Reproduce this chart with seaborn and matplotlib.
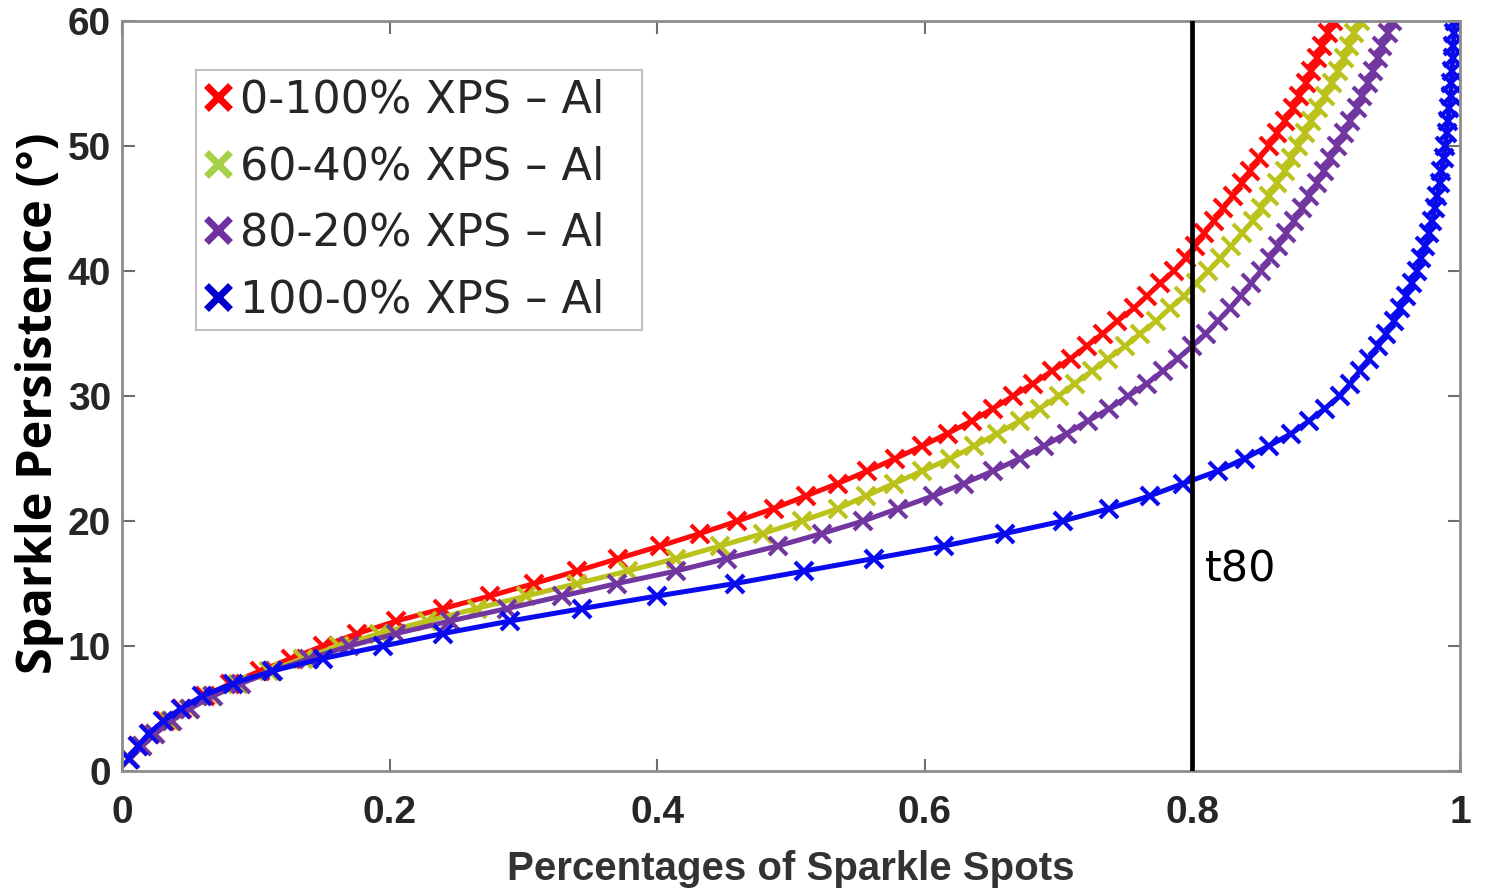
import numpy as np
import pandas as pd
import matplotlib
matplotlib.use("Agg")
import matplotlib.pyplot as plt
from matplotlib.lines import Line2D
import seaborn as sns

# ---- data -------------------------------------------------------------
persistence = list(range(1, 61))  # Sparkle Persistence (deg), one marker per degree

red_0_100 = [0.005, 0.012, 0.021, 0.032, 0.045, 0.062, 0.081, 0.103, 0.126, 0.150,
             0.176, 0.205, 0.240, 0.275, 0.308, 0.340, 0.371, 0.402, 0.432, 0.460,
             0.487, 0.511, 0.535, 0.557, 0.578, 0.598, 0.617, 0.635, 0.651, 0.666,
             0.681, 0.695, 0.709, 0.721, 0.733, 0.744, 0.756, 0.766, 0.776, 0.786,
             0.795, 0.802, 0.809, 0.816, 0.823, 0.830, 0.837, 0.843, 0.850, 0.857,
             0.863, 0.869, 0.875, 0.880, 0.885, 0.889, 0.893, 0.897, 0.901, 0.905]

yellow_60_40 = [0.006, 0.015, 0.025, 0.036, 0.050, 0.067, 0.087, 0.110, 0.135, 0.162,
                0.192, 0.228, 0.265, 0.302, 0.340, 0.378, 0.414, 0.447, 0.479, 0.508,
                0.535, 0.556, 0.577, 0.598, 0.619, 0.637, 0.654, 0.671, 0.686, 0.700,
                0.712, 0.725, 0.737, 0.750, 0.761, 0.773, 0.783, 0.794, 0.803, 0.812,
                0.821, 0.829, 0.837, 0.845, 0.851, 0.857, 0.863, 0.869, 0.874, 0.879,
                0.884, 0.889, 0.894, 0.899, 0.904, 0.909, 0.913, 0.917, 0.921, 0.925]

purple_80_20 = [0.006, 0.015, 0.025, 0.037, 0.051, 0.068, 0.089, 0.113, 0.140, 0.170,
                0.205, 0.245, 0.288, 0.329, 0.370, 0.414, 0.452, 0.490, 0.523, 0.554,
                0.580, 0.606, 0.629, 0.651, 0.671, 0.689, 0.706, 0.722, 0.738, 0.752,
                0.766, 0.778, 0.789, 0.800, 0.810, 0.819, 0.828, 0.836, 0.844, 0.851,
                0.858, 0.864, 0.870, 0.876, 0.882, 0.887, 0.893, 0.898, 0.903, 0.908,
                0.913, 0.918, 0.923, 0.927, 0.931, 0.935, 0.939, 0.942, 0.946, 0.949]

blue_100_0 = [0.005, 0.012, 0.020, 0.031, 0.044, 0.060, 0.083, 0.112, 0.150, 0.195,
              0.240, 0.290, 0.344, 0.400, 0.458, 0.510, 0.562, 0.614, 0.660, 0.703,
              0.738, 0.768, 0.793, 0.819, 0.839, 0.857, 0.874, 0.887, 0.899, 0.910,
              0.918, 0.925, 0.932, 0.939, 0.945, 0.951, 0.955, 0.960, 0.964, 0.968,
              0.971, 0.974, 0.977, 0.979, 0.981, 0.983, 0.985, 0.986, 0.988, 0.989,
              0.990, 0.991, 0.992, 0.993, 0.9935, 0.994, 0.9945, 0.995, 0.9955, 0.996]

series_labels = ["0-100% XPS \u2013 Al", "60-40% XPS \u2013 Al",
                 "80-20% XPS \u2013 Al", "100-0% XPS \u2013 Al"]
series_values = [red_0_100, yellow_60_40, purple_80_20, blue_100_0]
line_colors = ["#ff0a0a", "#bcc21c", "#7236a0", "#0a0aee"]
legend_colors = ["#ff0000", "#a6cf4a", "#7030a0", "#0000cc"]

x_ticks = [0, 0.2, 0.4, 0.6, 0.8, 1]
x_tick_labels = ["0", "0.2", "0.4", "0.6", "0.8", "1"]
y_ticks = [0, 10, 20, 30, 40, 50, 60]
t80_x = 0.8

# ---- figure -----------------------------------------------------------
sns.set_theme(style="white")
plt.rcParams["font.family"] = ["DejaVu Sans"]

fig = plt.figure(figsize=(14.86, 8.89), dpi=100)
ax = fig.add_axes([0.0821, 0.1327, 0.9004, 0.8437])

frames = []
for lab, vals in zip(series_labels, series_values):
    frames.append(pd.DataFrame({"pct": vals, "deg": persistence, "series": lab}))
df = pd.concat(frames, ignore_index=True)

for lab, col in zip(series_labels, line_colors):
    sub = df[df["series"] == lab]
    sns.lineplot(data=sub, x="pct", y="deg", ax=ax, color=col, linewidth=3.6,
                 marker="x", markersize=13, markeredgewidth=3.0,
                 markeredgecolor=col, sort=False, estimator=None, legend=False)

ax.axvline(t80_x, color="black", linewidth=3.4, zorder=5)
ax.text(0.809, 16.1, "t80", fontsize=31, color="black", va="center", ha="left",
        family="DejaVu Sans")

ax.set_xlim(0, 1)
ax.set_ylim(0, 60)
ax.set_xticks(x_ticks)
ax.set_xticklabels(x_tick_labels)
ax.set_yticks(y_ticks)

for lbl in ax.get_xticklabels() + ax.get_yticklabels():
    lbl.set_fontfamily("Liberation Sans")
    lbl.set_fontweight("bold")
    lbl.set_fontsize(28)
    lbl.set_color("#262626")

ax.tick_params(axis="both", which="both", direction="in", length=9, width=1.5,
               color="#6e6e6e", top=True, right=True, bottom=True, left=True)
ax.tick_params(axis="x", pad=17)
ax.tick_params(axis="y", pad=8)

for sp in ax.spines.values():
    sp.set_visible(True)
    sp.set_color("#8c8c8c")
    sp.set_linewidth(2)

ax.set_xlabel("Percentages of Sparkle Spots", family="Liberation Sans",
              weight="bold", size=29, color="#333333", labelpad=14)
ax.set_ylabel("Sparkle Persistence (\u00b0)", family="Open Sans",
              weight="bold", size=35, color="black", labelpad=2)
ax.yaxis.set_label_coords(-0.043, 0.49)

handles = [Line2D([], [], linestyle="none", marker="x", markersize=17,
                  markeredgewidth=5, color=c) for c in legend_colors]
legend_labels = [s + "  " for s in series_labels]
leg = ax.legend(handles, legend_labels, loc="upper left",
                bbox_to_anchor=(0.055, 0.935), fontsize=32, frameon=True,
                fancybox=False, edgecolor="#b0b0b0", handlelength=0.6,
                handletextpad=0.2, labelspacing=0.53, borderpad=0.2,
                borderaxespad=0.0)
leg.get_frame().set_linewidth(1.5)

fig.savefig("out.png", dpi=100, facecolor="white")
